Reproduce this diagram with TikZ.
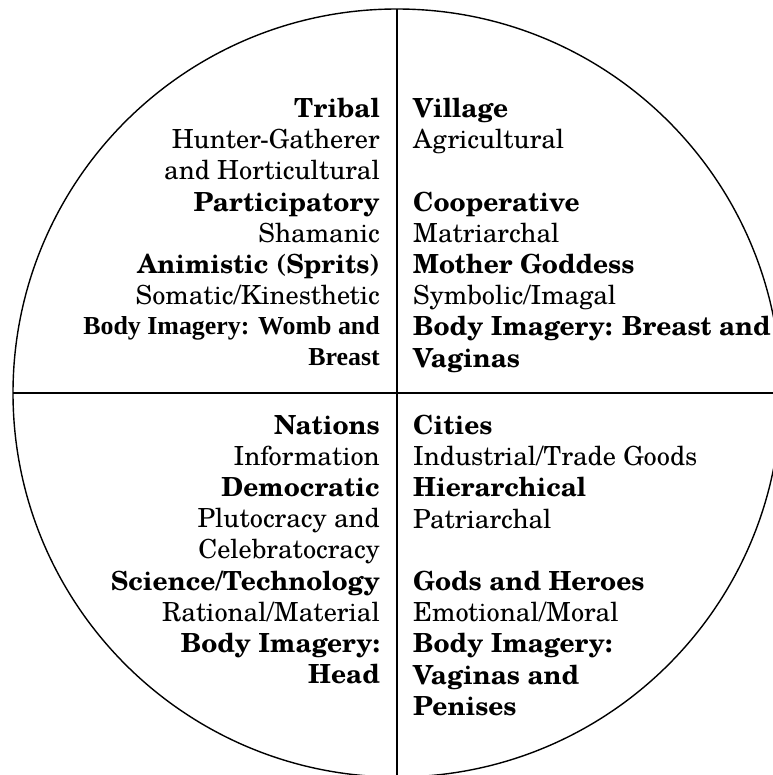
\documentclass[tikz,border=0pt]{standalone}
\usepackage{fontspec}
\setmainfont{TeX Gyre Schola}
\newfontfamily\timesfont{Liberation Serif}
\tikzset{
  quadL/.style={anchor=north east, align=right, inner sep=0pt, font=\fontsize{26.4}{31.3}\selectfont},
  quadR/.style={anchor=north west, align=left, inner sep=0pt, font=\fontsize{26.4}{31.3}\selectfont},
  timesL/.style={anchor=north east, align=right, inner sep=0pt, font=\timesfont\bfseries\fontsize{26}{31.3}\selectfont},
  ring/.style={line width=1.4bp},
  divider/.style={line width=1.5bp}
}
\begin{document}
\begin{tikzpicture}[x=1bp,y=-1bp]
\useasboundingbox (0,0) rectangle (773,775);
\begin{scope}
  \clip (0,0) rectangle (773,775);
  \draw[ring] (397,393) circle[radius=384];
\end{scope}
\coordinate (top) at (397,9);
\coordinate (bot) at (397,775);
\coordinate (left) at (13,393);
\coordinate (right) at (773,393);
\draw[divider] (top) -- (bot);
\draw[ring] (left) -- (right);

\node[quadL] (tl) at (380,98) {\textbf{Tribal}\\Hunter-Gatherer\\and Horticultural\\\textbf{Participatory}\\Shamanic\\\textbf{Animistic (Sprits)}\\Somatic/Kinesthetic};
\node[timesL] (tlb) at (380,316) {Body Imagery: Womb and\\Breast};
\node[quadR] (tr) at (413,98) {\textbf{Village}\\Agricultural\\\mbox{}\\\textbf{Cooperative}\\Matriarchal\\\textbf{Mother Goddess}\\Symbolic/Imagal\\\textbf{Body Imagery: Breast and}\\\textbf{Vaginas}};
\node[quadL] (bl) at (380,415) {\textbf{Nations}\\Information\\\textbf{Democratic}\\Plutocracy and\\Celebratocracy\\\textbf{Science/Technology}\\Rational/Material\\\textbf{Body Imagery:}\\\textbf{Head}};
\node[quadR] (br) at (413,415) {\textbf{Cities}\\Industrial/Trade Goods\\\textbf{Hierarchical}\\Patriarchal\\\mbox{}\\\textbf{Gods and Heroes}\\Emotional/Moral\\\textbf{Body Imagery:}\\\textbf{Vaginas and}\\\textbf{Penises}};
\end{tikzpicture}
\end{document}
